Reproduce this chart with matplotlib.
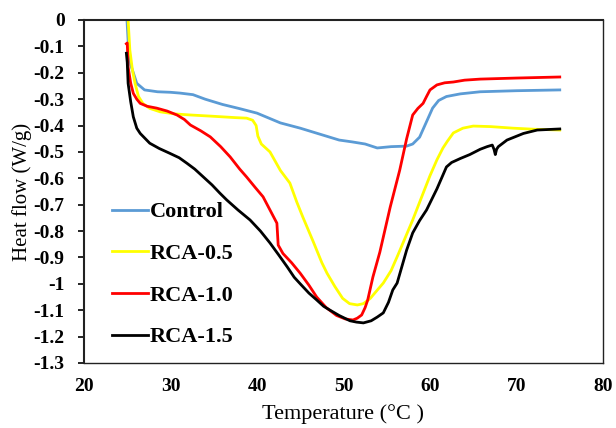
import matplotlib
matplotlib.use("Agg")
import matplotlib.pyplot as plt

plt.rcParams['font.family'] = ['Liberation Serif', 'DejaVu Serif']

# ---- data ----
ctrl_x = [24.97, 25.1, 25.4, 26.1, 27.0, 28.5, 30.0, 31.1, 32.6, 34.0, 36.0, 38.0, 40.0,
          42.7, 45.0, 47.0, 49.5, 51.0, 52.5, 53.9, 55.5, 57.3, 58.0, 58.8, 59.4, 60.3,
          61.0, 61.9, 63.5, 65.8, 70.0, 75.0]
ctrl_y = [0.0, -0.08, -0.17, -0.24, -0.265, -0.272, -0.274, -0.277, -0.283, -0.30, -0.32,
          -0.336, -0.353, -0.39, -0.41, -0.43, -0.455, -0.462, -0.47, -0.485, -0.48, -0.478,
          -0.47, -0.444, -0.40, -0.334, -0.305, -0.29, -0.28, -0.272, -0.268, -0.265]

r05_x = [25.1, 25.3, 25.6, 25.9, 26.3, 26.8, 27.6, 28.8, 30.5, 32.3, 35.0, 37.5, 38.8, 39.5,
         39.9, 40.1, 40.5, 41.5, 42.7, 43.8, 44.6, 45.3, 46.5, 47.5, 48.1, 49.0, 49.9, 50.7,
         51.6, 52.3, 53.1, 54.0, 54.6, 55.5, 56.3, 58.0, 59.2, 60.0, 60.8, 61.5, 62.0, 62.7,
         63.8, 65.0, 67.0, 69.6, 72.0, 75.0]
r05_y = [0.0, -0.114, -0.19, -0.24, -0.29, -0.316, -0.335, -0.348, -0.356, -0.36, -0.365,
         -0.37, -0.372, -0.38, -0.40, -0.44, -0.47, -0.50, -0.57, -0.618, -0.69, -0.747,
         -0.84, -0.92, -0.96, -1.01, -1.055, -1.075, -1.08, -1.075, -1.055, -1.02, -0.997,
         -0.95, -0.89, -0.758, -0.657, -0.59, -0.53, -0.485, -0.46, -0.428, -0.41, -0.402,
         -0.404, -0.41, -0.414, -0.417]

r10_x = [24.9, 25.0, 25.1, 25.4, 25.7, 26.1, 26.5, 27.3, 28.4, 29.6, 30.75, 31.6, 32.3, 33.5,
         34.6, 35.8, 36.9, 38.0, 38.8, 39.8, 40.7, 41.5, 42.3, 42.45, 43.0, 44.0, 45.0, 46.0,
         46.9, 48.0, 49.2, 50.2, 51.1, 51.6, 52.1, 52.5, 52.8, 53.4, 54.2, 55.4, 56.5, 57.3,
         58.0, 58.6, 59.2, 59.6, 60.0, 60.8, 61.7, 62.7, 64.0, 65.8, 70.0, 75.0]
r10_y = [-0.09, -0.087, -0.178, -0.24, -0.278, -0.30, -0.316, -0.327, -0.334, -0.345, -0.36,
         -0.377, -0.398, -0.42, -0.443, -0.48, -0.519, -0.565, -0.595, -0.635, -0.67, -0.72,
         -0.77, -0.853, -0.885, -0.92, -0.96, -1.005, -1.05, -1.09, -1.12, -1.133, -1.137,
         -1.13, -1.118, -1.09, -1.061, -0.974, -0.88, -0.709, -0.569, -0.45, -0.36, -0.335,
         -0.316, -0.29, -0.265, -0.246, -0.238, -0.235, -0.228, -0.224, -0.22, -0.216]

r15_x = [24.9, 25.0, 25.1, 25.4, 25.7, 26.1, 26.5, 27.6, 28.7, 29.9, 31.0, 31.9, 32.8, 33.8,
         34.8, 35.7, 36.5, 37.8, 39.2, 40.4, 41.5, 42.5, 43.5, 44.3, 45.0, 46.0, 46.9, 47.7,
         48.4, 49.5, 50.75, 51.5, 52.3, 53.2, 53.9, 54.6, 55.2, 55.7, 56.2, 57.3, 58.0, 58.8,
         59.6, 60.8, 61.9, 62.5, 63.5, 64.6, 65.8, 66.6, 67.2, 67.4, 67.55, 67.7, 67.9, 68.9,
         70.8, 72.4, 75.0]
r15_y = [-0.126, -0.16, -0.24, -0.31, -0.367, -0.41, -0.43, -0.467, -0.487, -0.505, -0.522,
         -0.543, -0.565, -0.595, -0.625, -0.656, -0.682, -0.72, -0.758, -0.80, -0.845, -0.89,
         -0.936, -0.975, -1.0, -1.035, -1.061, -1.085, -1.099, -1.12, -1.14, -1.145, -1.148,
         -1.14, -1.126, -1.11, -1.07, -1.023, -0.997, -0.872, -0.807, -0.76, -0.72, -0.64,
         -0.557, -0.54, -0.525, -0.51, -0.49, -0.48, -0.474, -0.49, -0.51, -0.49, -0.48,
         -0.455, -0.43, -0.417, -0.413]

labels = ["Control", "RCA-0.5", "RCA-1.0", "RCA-1.5"]
colors = ["#5B9BD5", "#FFFF00", "#FF0000", "#000000"]

x_ticks = [20, 30, 40, 50, 60, 70, 80]
y_ticks = [0, -0.1, -0.2, -0.3, -0.4, -0.5, -0.6, -0.7, -0.8, -0.9, -1.0, -1.1, -1.2, -1.3]
y_tick_labels = ["0", "-0.1", "-0.2", "-0.3", "-0.4", "-0.5", "-0.6", "-0.7", "-0.8",
                 "-0.9", "-1", "-1.1", "-1.2", "-1.3"]

# ---- figure ----
fig = plt.figure(figsize=(6.16, 4.28), dpi=100)
ax = fig.add_axes([84 / 616, 1 - 363 / 428, 519 / 616, 343 / 428])

series = [(ctrl_x, ctrl_y), (r05_x, r05_y), (r10_x, r10_y), (r15_x, r15_y)]
for (xs, ys), lab, col in zip(series, labels, colors):
    ax.plot(xs, ys, color=col, lw=2.0, label=lab, solid_joinstyle='round')

ax.set_xlim(20, 80)
ax.set_ylim(-1.3, 0)
ax.set_xticks(x_ticks)
ax.set_xticklabels([str(t) for t in x_ticks], fontsize=14, fontweight='bold')
ax.set_yticks(y_ticks)
ax.set_yticklabels(y_tick_labels, fontsize=14, fontweight='bold')
ax.tick_params(axis='x', length=0, pad=11)
ax.tick_params(axis='y', length=4, width=1.2, direction='out', pad=10)

for side in ['left', 'top', 'bottom', 'right']:
    ax.spines[side].set_color('#222222')
ax.spines['left'].set_linewidth(1.5)
ax.spines['top'].set_linewidth(1.5)
ax.spines['bottom'].set_linewidth(1.0)
ax.spines['right'].set_linewidth(1.0)

ax.set_xlabel("Temperature (°C )", fontsize=16, labelpad=6)
ax.set_ylabel("Heat flow (W/g)", fontsize=15)
ax.yaxis.set_label_coords(-52 / 519, 0.5)

leg = ax.legend(loc='upper left', bbox_to_anchor=(0.054, 0.47), frameon=False,
                prop={'family': 'Liberation Serif', 'weight': 'bold', 'size': 16},
                handlelength=1.6, handletextpad=0.1, labelspacing=0.95,
                borderpad=0, borderaxespad=0)

fig.savefig("out.png", dpi=100)
